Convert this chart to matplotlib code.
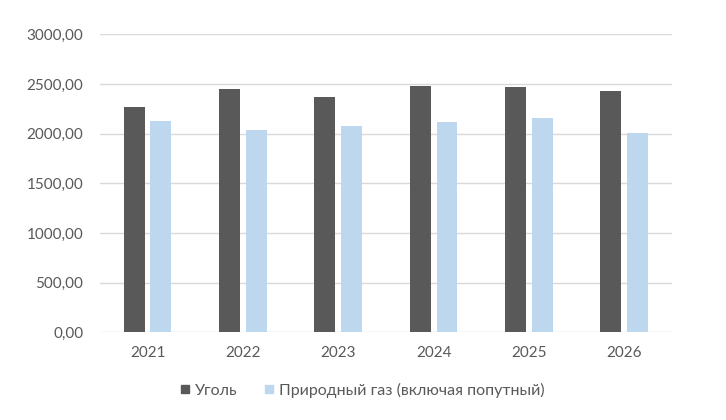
import matplotlib
matplotlib.use("Agg")
import matplotlib.pyplot as plt
from matplotlib.lines import Line2D
from matplotlib.ticker import FuncFormatter
import numpy as np

years = ["2021", "2022", "2023", "2024", "2025", "2026"]
coal = [2271, 2452, 2372, 2483, 2473, 2426]
gas = [2127, 2034, 2080, 2117, 2161, 2006]
series_names = ["Уголь", "Природный газ (включая попутный)"]

plt.rcParams['font.family'] = ['Lato', 'DejaVu Sans']
txt = '#595959'
fig = plt.figure(figsize=(7.26, 4.2), dpi=100)
ax = fig.add_axes([0.1377, 0.2088, 0.7879, 0.7092])
x = np.arange(len(years))
w = 0.22
ax.bar(x - 0.14, coal, w, color='#595959', zorder=3)
ax.bar(x + 0.14, gas, w, color='#BDD7EE', zorder=3)
ax.set_xlim(-0.5, len(years) - 0.5)
ax.set_ylim(0, 3000)
ax.set_yticks(np.arange(0, 3001, 500))
ax.yaxis.set_major_formatter(FuncFormatter(lambda v, p: f"{v:.2f}".replace('.', ',')))
ax.set_xticks(x)
ax.set_xticklabels(years)
ax.grid(axis='y', color='#D9D9D9', linewidth=1, zorder=0)
for s in ax.spines.values():
    s.set_visible(False)
ax.tick_params(axis='both', length=0, colors=txt, labelsize=11)
ax.tick_params(axis='y', pad=12)
ax.tick_params(axis='x', pad=10)
handles = [Line2D([], [], marker='s', linestyle='none', markersize=5.5, color='#595959'),
           Line2D([], [], marker='s', linestyle='none', markersize=5.5, color='#BDD7EE')]
fig.legend(handles, series_names, loc='center', bbox_to_anchor=(0.497, 0.071), ncol=2,
           frameon=False, fontsize=11.5, labelcolor=txt, handletextpad=0.1, columnspacing=1.5,
           handlelength=1.0)
fig.savefig("out.png", dpi=100)
